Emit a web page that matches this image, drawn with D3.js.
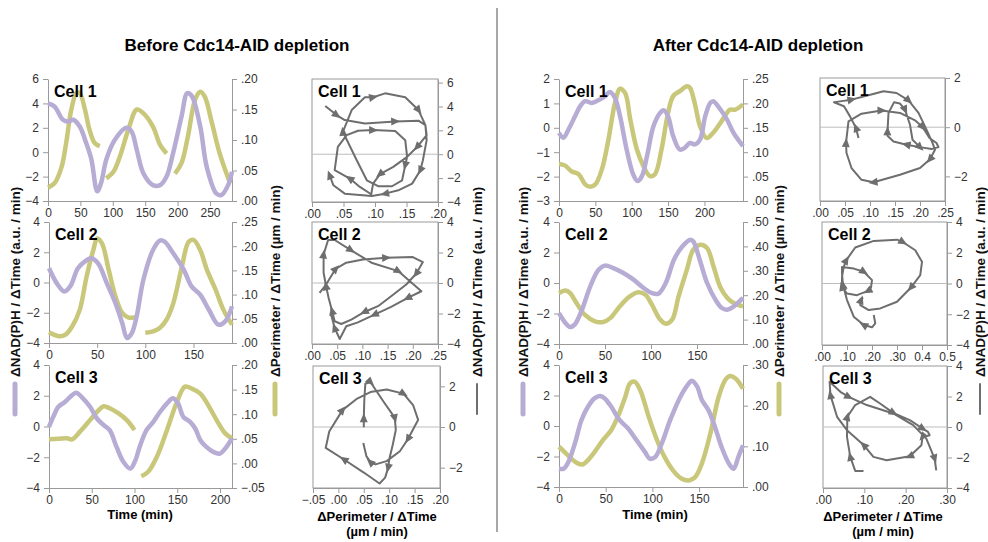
<!DOCTYPE html>
<html>
<head>
<meta charset="utf-8">
<script src="https://cdn.jsdelivr.net/npm/d3@7"></script>
<style>
  body { margin: 0; background: #fff; }
  text { font-family: "Liberation Sans", Arial, sans-serif; }
</style>
</head>
<body>
<script>
// ---- data ----
// Before depletion, cell 1
var b1NadT = [0,10,23,31,39,49,59,67,76,82,90,103,121,129,137,147,162,173,183,193,206,215,222,235,245,260,268,278,284];
var b1Nad = [4.0,3.75,2.66,2.5,2.66,2.1,0.74,-0.6,-3.2,-2.5,-0.6,1.0,2.0,1.7,0.2,-1.7,-2.7,-2.7,-2.0,-0.1,2.9,4.85,4.6,2.1,-1.2,-3.4,-3.5,-2.7,-1.6];
var b1PerT = [0,10,21,28,36,44,49,57,64,72,80,85,90,101,111,124,137,147,162,173,183,190,196,206,216,227,235,242,253,265,281];
var b1Per = [.022,.029,.056,.095,.150,.177,.177,.150,.117,.095,.090,null,.037,.048,.073,.117,.150,.144,.122,.092,.078,null,.045,.062,.106,.166,.179,.171,.128,.078,.029];
// Before depletion, cell 2
var b2NadT = [0,8,16,22,30,37,44,51,60,69,76,81,86,91,98,108,115,120,129,140,148,157,166,176,183,190];
var b2Nad = [0.94,-0.04,-0.59,-0.26,0.94,1.38,1.60,1.27,-0.04,-1.36,-2.68,-3.67,-3.34,-2.24,0.18,2.15,2.77,2.70,1.93,0.83,-0.26,-0.81,-1.80,-2.79,-2.57,-1.58];
var b2PerT = [0,10,17,24,32,39,46,50,55,62,69,76,82,91,95,100,108,115,122,129,138,145,150,157,164,173,181,190];
var b2Per = [.022,.014,.017,.034,.069,.137,.192,.216,.206,.151,.096,.062,.053,.053,null,.021,.024,.031,.048,.082,.158,.209,.213,.192,.151,.110,.069,.038];
// Before depletion, cell 3
var b3NadT = [0,5,11,19,27,32,38,48,56,64,71,79,87,95,101,106,114,122,130,138,145,151,157,165,171,177,184,192,200,206,214];
var b3Nad = [-0.02,0.63,1.28,1.61,2.04,2.20,1.93,1.28,0.52,0.09,-0.24,-1.33,-2.30,-2.74,-2.20,-1.33,-0.24,0.30,0.96,1.50,1.83,1.50,0.63,0.30,-0.13,-0.89,-1.33,-1.65,-1.76,-1.44,-0.78];
var b3PerT = [0,11,21,27,36,48,58,64,71,81,91,100,104,108,116,126,138,149,159,167,177,186,196,206,214];
var b3Per = [.049,.050,.051,.049,.064,.088,.108,.116,.112,.102,.088,.068,null,-.026,-.017,.013,.068,.122,.156,.152,.142,.119,.088,.061,.051];
// After depletion, cell 1
var a1NadT = [0,6,13,22,29,36,45,54,63,70,77,84,93,102,108,114,121,130,139,144,150,157,166,173,180,187,194,201,208,212,222,231,240,253];
var a1Nad = [-0.21,-0.41,-0.07,0.47,0.88,1.09,1.02,1.13,1.29,1.47,1.22,0.47,-0.89,-1.91,-2.18,-1.98,-1.16,0.07,0.61,0.72,0.47,-0.34,-0.89,-0.82,-0.62,-0.68,-0.48,0.47,1.02,1.09,0.75,0.34,-0.21,-0.75];
var a1PerT = [0,8,17,27,36,43,50,59,68,77,84,91,98,107,116,125,132,141,150,157,166,176,180,187,194,203,212,222,235,242,253];
var a1Per = [.076,.073,.061,.055,.034,.029,.034,.065,.126,.201,.230,.221,.167,.106,.072,.051,.055,.106,.181,.215,.225,.235,.232,.198,.153,.129,.140,.160,.187,.187,.198];
// After depletion, cell 2
var a2NadT = [0,7,12,17,25,34,43,50,59,70,81,92,101,108,116,125,134,143,146,154,161,170,177,183,190,200];
var a2Nad = [-1.97,-2.62,-2.89,-2.73,-1.75,-0.22,0.87,1.14,0.98,0.66,0.22,-0.33,-0.66,-0.70,0.00,1.53,2.40,2.84,2.73,1.31,0.00,-1.09,-1.64,-1.75,-1.53,-0.98];
var a2PerT = [0,7,12,19,28,39,48,56,66,77,86,94,101,110,116,123,130,139,146,154,161,168,175,183,190,200];
var a2Per = [.209,.219,.209,.168,.120,.093,.090,.107,.154,.195,.212,.202,.161,.100,.083,.100,.195,.305,.387,.407,.393,.318,.236,.189,.168,.154];
// After depletion, cell 3
var a3NadT = [0,5,10,17,24,31,38,44,49,56,65,74,83,92,97,103,110,119,130,139,142,148,153,160,167,174,182,187,192,197];
var a3Nad = [-2.80,-2.80,-2.36,-1.15,0.38,1.26,1.81,1.96,1.81,1.26,0.38,-0.16,-0.93,-1.70,-2.14,-2.03,-1.15,0.38,1.92,2.79,2.97,2.58,1.70,1.04,-0.06,-1.37,-2.47,-2.80,-2.03,-1.26];
var a3PerT = [0,6,13,20,26,31,38,47,56,63,71,76,81,87,96,105,113,122,131,139,146,153,162,171,178,183,189,197];
var a3Per = [.099,.086,.070,.058,.056,.066,.086,.115,.140,.173,.222,.255,.259,.238,.173,.115,.074,.041,.021,.016,.025,.058,.131,.222,.263,.273,.267,.242];

// phase portraits: x = dPerimeter/dt, y = dNAD(P)H/dt, arrows = point indices with an arrowhead
var bp1X = [.021,.039,.052,.084,.132,.169,.180,.182,.167,.151,.129,.108,.097,.094,.076,.060,.036,.041,.055,.073,.097,.132,.148,.151,.148,.143,.127,.105,.087,.071,.049,.063,.084,.097,.116,.148,.169,.180,.182,.176,.172,.159,.137,.116,.095,.052,.034,.028];
var bp1Y = [4.04,3.28,2.86,2.58,2.75,2.81,2.44,1.60,0.62,-0.22,-1.06,-1.67,-2.46,-3.35,-2.74,-2.04,-1.34,0.62,1.60,1.97,2.02,1.94,1.18,-0.22,-0.92,-2.18,-2.68,-2.68,-2.18,-0.50,1.88,3.70,4.77,4.77,5.10,4.77,3.70,2.44,1.18,-0.50,-1.34,-2.46,-3.02,-3.30,-3.49,-3.30,-2.60,-1.76];
var bp1Arrows = [1,4,8,11,15,20,24,30,33,36,40,43,47];
var bp2X = [.015,.028,.047,.068,.101,.147,.200,.220,.207,.187,.157,.131,.104,.078,.058,.045,.040,.033,.028,.023,.023,.032,.045,.077,.118,.171,.217,.190,.157,.124,.091,.068,.055,.045,.037];
var bp2Y = [-0.65,-0.10,0.93,1.33,1.54,1.65,1.70,1.37,0.62,-0.10,-0.87,-1.52,-1.90,-2.40,-2.69,-2.51,-1.85,-0.98,-0.21,0.67,1.87,2.82,2.82,2.16,1.33,0.78,-0.54,-0.98,-1.57,-2.07,-2.58,-2.84,-3.67,-2.95,-1.96];
var bp2Arrows = [2,5,8,12,16,18,20,23,25,27,29,33];
var bp3X = [.050,.050,.051,.053,.063,.089,.105,.111,.113,.107,.100,.098,.092,.081,.050,.011,-.025,-.018,.008,.037,.063,.095,.128,.147,.157,.150,.137,.121,.095,.073,.063,.055,.049];
var bp3Y = [-0.01,0.43,1.32,2.13,2.21,1.24,0.67,0.43,-0.14,-0.87,-1.60,-2.00,-2.49,-2.78,-2.24,-1.60,-1.03,-0.22,0.83,1.40,1.72,1.84,1.64,1.08,0.35,0.02,-0.59,-1.19,-1.68,-1.84,-1.73,-1.43,-0.79];
var bp3Arrows = [1,4,7,11,15,18,22,26,30];
var ap1X = [.077,.072,.060,.048,.028,.040,.063,.093,.127,.153,.177,.197,.213,.225,.230,.220,.200,.160,.107,.083,.063,.053,.052,.057,.083,.123,.160,.190,.205,.219,.233,.237,.223,.200,.173,.147,.135,.135,.137,.148,.160,.170,.180,.185,.200];
var ap1Y = [-0.44,-0.03,0.44,0.85,1.01,1.05,1.12,1.28,1.46,1.39,1.09,0.58,-0.10,-0.64,-0.92,-1.30,-1.66,-1.93,-2.24,-2.14,-1.66,-1.05,-0.64,0.24,0.55,0.68,0.58,0.28,0.01,-0.44,-0.64,-0.81,-0.89,-0.81,-0.71,-0.58,-0.35,-0.17,0.58,1.01,0.96,0.71,0.10,-0.51,-0.81];
var ap1Arrows = [1,6,10,15,18,22,25,28,34,37,41,44];
var ap2X = [.207,.213,.200,.167,.127,.100,.084,.080,.080,.127,.167,.200,.196,.184,.140,.100,.080,.080,.087,.097,.133,.207,.300,.323,.373,.400,.393,.356,.300,.233,.187,.153,.156,.164];
var ap2Y = [-2.05,-2.59,-2.85,-2.70,-2.16,-1.08,-0.11,0.65,1.08,0.97,0.76,0.22,-0.26,-0.48,-0.76,-0.65,-0.22,0.43,1.08,1.51,2.34,2.77,2.85,2.70,2.16,1.41,0.54,-0.26,-1.19,-1.62,-1.73,-1.41,-1.08,-0.91];
var ap2Arrows = [3,6,10,13,16,19,23,27,32];
var ap3X = [.098,.078,.066,.058,.059,.078,.114,.138,.170,.210,.241,.254,.258,.241,.238,.210,.154,.122,.099,.058,.034,.018,.016,.042,.062,.106,.170,.218,.250,.270,.274];
var ap3Y = [-2.88,-2.88,-1.96,-0.65,0.67,1.44,1.98,1.54,0.93,0.45,-0.10,-0.32,-0.54,-0.65,-1.20,-1.92,-2.18,-1.96,-1.20,-0.21,0.67,2.09,2.97,2.31,1.98,1.44,0.89,0.12,-0.76,-2.07,-2.84];
var ap3Arrows = [2,4,8,10,13,15,18,21,24,29];

var nadColor = "#b7acd4", perColor = "#c9c77a", phaseColor = "#6e6e6e", axisColor = "#9a9a9a";

var noZero = function(v) { return d3.format(".2f")(v).replace("0.", "."); };
var mixed = function(v) { return v > 0.35 ? d3.format(".1f")(v) : noZero(v); };

var svg = d3.select("body").append("svg").attr("width", 988).attr("height", 542);

// time series panels
var series = [
  {cell: "Cell 1", x: [48,232], y: [201,79], tMax: 284, tTicks: d3.range(0,251,50), nad: [-4,6], nadTicks: d3.range(-4,7,2), per: [0,.20], perTicks: [0,.05,.10,.15,.20], t: b1NadT, v: b1Nad, pt: b1PerT, pv: b1Per},
  {cell: "Cell 2", x: [49,232], y: [343,222], tMax: 190, tTicks: d3.range(0,151,50), nad: [-4,4], nadTicks: d3.range(-4,5,2), per: [0,.25], perTicks: [0,.05,.10,.15,.20,.25], t: b2NadT, v: b2Nad, pt: b2PerT, pv: b2Per},
  {cell: "Cell 3", x: [49,232], y: [488,365], tMax: 214, tTicks: d3.range(0,201,50), nad: [-4,4], nadTicks: d3.range(-4,5,2), per: [-.05,.20], perTicks: [-.05,0,.05,.10,.15,.20], t: b3NadT, v: b3Nad, pt: b3PerT, pv: b3Per},
  {cell: "Cell 1", x: [559,743], y: [201,79], tMax: 253, tTicks: d3.range(0,201,50), nad: [-3,2], nadTicks: d3.range(-3,3,1), per: [0,.25], perTicks: [0,.05,.10,.15,.20,.25], t: a1NadT, v: a1Nad, pt: a1PerT, pv: a1Per},
  {cell: "Cell 2", x: [559,743], y: [344,222], tMax: 200, tTicks: d3.range(0,151,50), nad: [-4,4], nadTicks: d3.range(-4,5,2), per: [0,.50], perTicks: [0,.10,.20,.30,.40,.50], t: a2NadT, v: a2Nad, pt: a2PerT, pv: a2Per},
  {cell: "Cell 3", x: [559,743], y: [487,365], tMax: 197, tTicks: d3.range(0,151,50), nad: [-4,4], nadTicks: d3.range(-4,5,2), per: [0,.30], perTicks: [0,.10,.20,.30], t: a3NadT, v: a3Nad, pt: a3PerT, pv: a3Per}
];

var phases = [
  {cell: "Cell 1", x: [312,438], y: [202,79], xd: [0,.20], yd: [-4,6.3], xTicks: [0,.05,.10,.15,.20], yTicks: d3.range(-4,7,2), fmt: noZero, px: bp1X, py: bp1Y, arrows: bp1Arrows},
  {cell: "Cell 2", x: [312,438], y: [344,222], xd: [0,.25], yd: [-4,4], xTicks: [0,.05,.10,.15,.20,.25], yTicks: d3.range(-4,5,2), fmt: noZero, px: bp2X, py: bp2Y, arrows: bp2Arrows},
  {cell: "Cell 3", x: [313,440], y: [488,366], xd: [-.05,.20], yd: [-3,3], xTicks: [-.05,0,.05,.10,.15,.20], yTicks: [-2,0,2], fmt: noZero, px: bp3X, py: bp3Y, arrows: bp3Arrows},
  {cell: "Cell 1", x: [820,945], y: [201,78], xd: [0,.25], yd: [-3,2], xTicks: [0,.05,.10,.15,.20,.25], yTicks: [-2,0,2], fmt: noZero, px: ap1X, py: ap1Y, arrows: ap1Arrows},
  {cell: "Cell 2", x: [822,947], y: [345,222], xd: [0,.5], yd: [-4,4], xTicks: [0,.1,.2,.3,.4,.5], yTicks: d3.range(-4,5,2), fmt: mixed, px: ap2X, py: ap2Y, arrows: ap2Arrows},
  {cell: "Cell 3", x: [823,947], y: [488,366], xd: [0,.30], yd: [-4,4], xTicks: [0,.10,.20,.30], yTicks: d3.range(-4,5,2), fmt: noZero, px: ap3X, py: ap3Y, arrows: ap3Arrows}
];

function styleAxis(g) {
  g.selectAll("path, line").attr("stroke", axisColor).attr("stroke-width", 1);
  g.selectAll("text").attr("fill", "#333").attr("font-size", 12)
    .attr("font-family", "Liberation Sans, Arial, sans-serif");
}

series.forEach(function(p) {
  var x = d3.scaleLinear().domain([0, p.tMax]).range(p.x);
  var yL = d3.scaleLinear().domain(p.nad).range(p.y);
  var yR = d3.scaleLinear().domain(p.per).range(p.y);
  var g = svg.append("g");

  g.append("g").attr("transform", "translate(0," + p.y[0] + ")")
    .call(d3.axisBottom(x).tickValues(p.tTicks).tickSize(5).tickSizeOuter(0).tickPadding(2))
    .call(styleAxis);
  g.append("g").attr("transform", "translate(" + p.x[0] + ",0)")
    .call(d3.axisLeft(yL).tickValues(p.nadTicks).tickSize(5).tickSizeOuter(0).tickPadding(4).tickFormat(d3.format("d")))
    .call(styleAxis);
  g.append("g").attr("transform", "translate(" + p.x[1] + ",0)")
    .call(d3.axisRight(yR).tickValues(p.perTicks).tickSize(5).tickSizeOuter(0).tickPadding(4).tickFormat(noZero))
    .call(styleAxis);

  var nadLine = d3.line().x(function(d, i) { return x(p.t[i]); }).y(function(d) { return yL(d); })
    .curve(d3.curveCatmullRom);
  var perLine = d3.line().defined(function(d) { return d !== null; })
    .x(function(d, i) { return x(p.pt[i]); }).y(function(d) { return yR(d); })
    .curve(d3.curveCatmullRom);

  g.append("path").attr("d", perLine(p.pv)).attr("fill", "none")
    .attr("stroke", perColor).attr("stroke-width", 4.5).attr("stroke-linejoin", "round");
  g.append("path").attr("d", nadLine(p.v)).attr("fill", "none")
    .attr("stroke", nadColor).attr("stroke-width", 4.5).attr("stroke-linejoin", "round");

  g.append("text").attr("x", p.x[0] + 6).attr("y", p.y[1] + 18)
    .attr("font-size", 16).attr("font-weight", "bold").text(p.cell);
});

phases.forEach(function(p) {
  var x = d3.scaleLinear().domain(p.xd).range(p.x);
  var y = d3.scaleLinear().domain(p.yd).range(p.y);
  var g = svg.append("g");

  g.append("rect").attr("x", p.x[0]).attr("y", p.y[1])
    .attr("width", p.x[1] - p.x[0]).attr("height", p.y[0] - p.y[1])
    .attr("fill", "none").attr("stroke", axisColor);
  g.append("line").attr("x1", p.x[0]).attr("x2", p.x[1]).attr("y1", y(0)).attr("y2", y(0))
    .attr("stroke", "#bdbdbd");

  g.append("g").attr("transform", "translate(0," + p.y[0] + ")")
    .call(d3.axisBottom(x).tickValues(p.xTicks).tickSize(5).tickSizeOuter(0).tickPadding(2).tickFormat(p.fmt))
    .call(styleAxis);
  g.append("g").attr("transform", "translate(" + p.x[1] + ",0)")
    .call(d3.axisRight(y).tickValues(p.yTicks).tickSize(5).tickSizeOuter(0).tickPadding(4).tickFormat(d3.format("d")))
    .call(styleAxis);

  var line = d3.line().x(function(d, i) { return x(p.px[i]); }).y(function(d) { return y(d); });
  g.append("path").attr("d", line(p.py)).attr("fill", "none")
    .attr("stroke", phaseColor).attr("stroke-width", 2).attr("stroke-linejoin", "round");

  var n = p.px.length;
  g.selectAll(".arrow").data(p.arrows).enter().append("path")
    .attr("d", "M5,0L-4,-4L-4,4Z").attr("fill", phaseColor)
    .attr("transform", function(i) {
      var a = Math.max(0, i - 1), b = Math.min(n - 1, i + 1);
      var ang = Math.atan2(y(p.py[b]) - y(p.py[a]), x(p.px[b]) - x(p.px[a])) * 180 / Math.PI;
      return "translate(" + x(p.px[i]) + "," + y(p.py[i]) + ") rotate(" + ang + ")";
    });

  g.append("text").attr("x", p.x[0] + 6).attr("y", p.y[1] + 18)
    .attr("font-size", 16).attr("font-weight", "bold").text(p.cell);
});

// titles and divider
svg.append("line").attr("x1", 497).attr("x2", 497).attr("y1", 8).attr("y2", 532)
  .attr("stroke", "#8a8a8a").attr("stroke-width", 1.5);
[["Before Cdc14-AID depletion", 237], ["After Cdc14-AID depletion", 758]].forEach(function(t) {
  svg.append("text").attr("x", t[1]).attr("y", 51).attr("text-anchor", "middle")
    .attr("font-size", 17).attr("font-weight", "bold").text(t[0]);
});

// axis titles
var yTitles = [
  ["ΔNAD(P)H / ΔTime (a.u. / min)", 15, nadColor, 5],
  ["ΔPerimeter / ΔTime (µm / min)", 275, perColor, 5],
  ["ΔNAD(P)H / ΔTime (a.u. / min)", 477, phaseColor, 2],
  ["ΔNAD(P)H / ΔTime (a.u. / min)", 523, nadColor, 5],
  ["ΔPerimeter / ΔTime (µm / min)", 779, perColor, 5],
  ["ΔNAD(P)H / ΔTime (a.u. / min)", 980, phaseColor, 2]
];
yTitles.forEach(function(t) {
  svg.append("text").attr("transform", "translate(" + (t[1] + 5) + ",377) rotate(-90)")
    .attr("font-size", 13.5).attr("font-weight", "bold").attr("fill", "#111").text(t[0]);
  svg.append("line").attr("x1", t[1]).attr("x2", t[1]).attr("y1", 384).attr("y2", 414)
    .attr("stroke", t[2]).attr("stroke-width", t[3]).attr("stroke-linecap", "round");
});

[140, 655].forEach(function(cx) {
  svg.append("text").attr("x", cx).attr("y", 519).attr("text-anchor", "middle")
    .attr("font-size", 13).attr("font-weight", "bold").text("Time (min)");
});
[377, 883].forEach(function(cx) {
  svg.append("text").attr("x", cx).attr("y", 521).attr("text-anchor", "middle")
    .attr("font-size", 13).attr("font-weight", "bold").text("ΔPerimeter / ΔTime");
  svg.append("text").attr("x", cx).attr("y", 536).attr("text-anchor", "middle")
    .attr("font-size", 13).attr("font-weight", "bold").text("(µm / min)");
});
</script>
</body>
</html>
